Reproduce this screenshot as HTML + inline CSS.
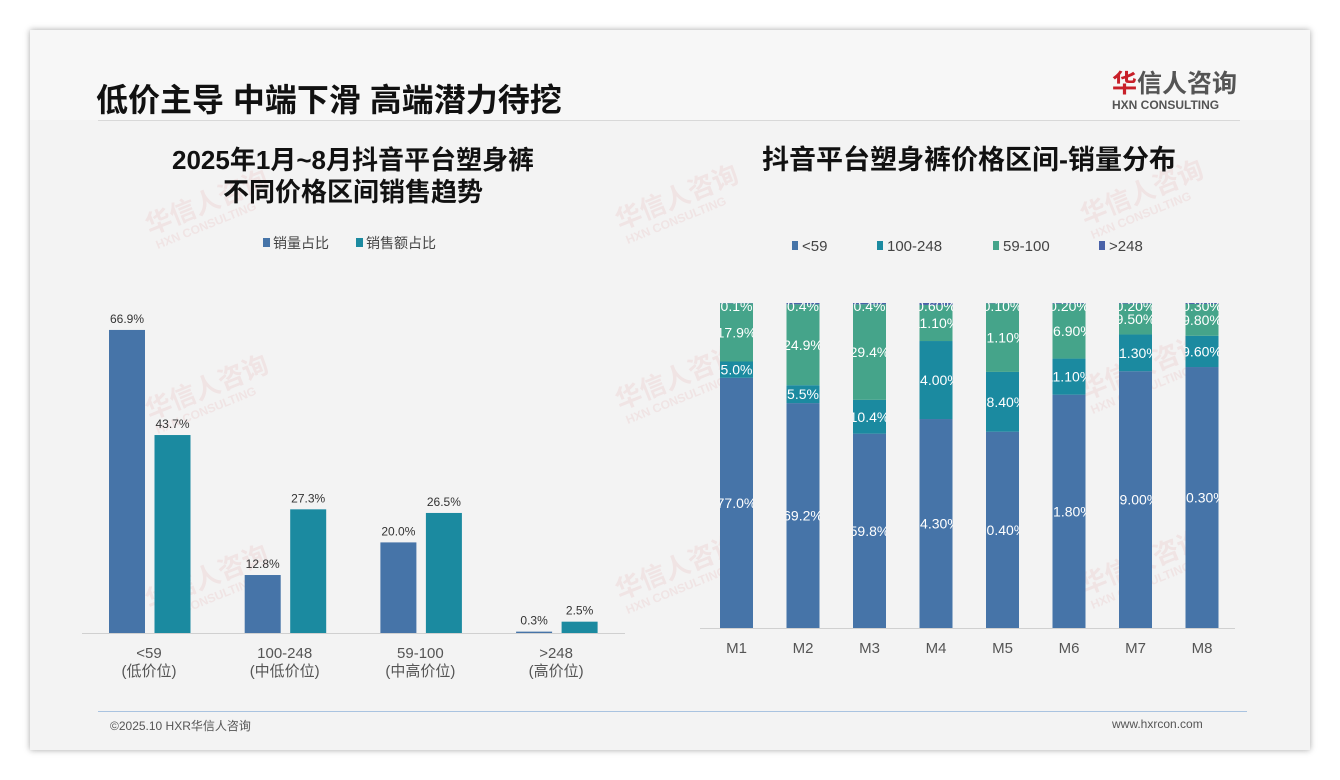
<!DOCTYPE html>
<html><head><meta charset="utf-8">
<style>
body{margin:0;width:1340px;height:780px;background:#fff;font-family:"Liberation Sans","Noto Sans CJK SC",sans-serif;overflow:hidden;position:relative}
#slide{position:absolute;left:30px;top:30px;width:1280px;height:720px;background:#f3f3f3;box-shadow:0 0 6px rgba(0,0,0,.35)}
.abs{position:absolute}
</style></head><body>
<div id="slide">
<div class="abs" style="left:0;top:0;width:1280px;height:90px;background:#f7f7f7"></div>
<div class="abs" style="left:66px;top:45px;font-size:32px;font-weight:bold;color:#111">低价主导 中端下滑 高端潜力待挖</div>
<div class="abs" style="left:1082px;top:34px;text-align:left">
<div style="font-size:25px;color:#555;font-weight:bold"><span style="color:#c8202a">华</span>信人咨询</div>
<div style="font-size:12px;color:#555;font-weight:bold;margin-top:-2px">HXN CONSULTING</div></div>
<div class="abs" style="left:68px;top:90px;width:1142px;height:1px;background:#d8d8d8"></div>
<div class="abs" style="left:68px;top:681px;width:1149px;height:1px;background:#a9c3e0"></div>
<div class="abs" style="left:80px;top:687px;font-size:12px;color:#555">©2025.10 HXR华信人咨询</div>
<div class="abs" style="left:1082px;top:687px;font-size:12px;color:#555">www.hxrcon.com</div>
</div>
<svg class="abs" style="left:0;top:0" width="1340" height="780" font-family="Liberation Sans, Noto Sans CJK SC, sans-serif">
<g id="wm" opacity="0.07" fill="#c8202a" font-weight="bold"></g>
<text x="353" y="169" text-anchor="middle" font-size="26" font-weight="bold" fill="#111">2025年1月~8月抖音平台塑身裤</text>
<text x="353" y="201" text-anchor="middle" font-size="26" font-weight="bold" fill="#111">不同价格区间销售趋势</text>
<text x="969" y="169" text-anchor="middle" font-size="27" font-weight="bold" fill="#111">抖音平台塑身裤价格区间-销量分布</text>
<g id="left"></g><g id="right"></g>
</svg>
<script>
const ns="http://www.w3.org/2000/svg";
function el(p,t,a,txt){const e=document.createElementNS(ns,t);for(const k in a)e.setAttribute(k,a[k]);if(txt!=null)e.textContent=txt;p.appendChild(e);return e;}
const wm=document.getElementById('wm');
[[150,235],[620,230],[1085,225],[150,420],[620,410],[1085,400],[150,610],[620,600],[1085,595]].forEach(p=>{
 const g=el(wm,'g',{transform:`translate(${p[0]},${p[1]}) rotate(-22)`});
 el(g,'text',{x:0,y:0,'font-size':26},'华信人咨询');el(g,'text',{x:2,y:16,'font-size':12},'HXN CONSULTING');});

// LEFT CHART DATA
const leftCats=["<59","100-248","59-100",">248"];
const leftSubs=["(低价位)","(中低价位)","(中高价位)","(高价位)"];
const volShare=[66.9,12.8,20.0,0.3];
const amtShare=[43.7,27.3,26.5,2.5];
const leftSeries=["销量占比","销售额占比"];
const leftColors=["#4674a8","#1b8aa0"];
const L=document.getElementById('left');
const lBase=633,lScale=4.53,lX0=82,lGroup=135.7,bw=36;
const ly=v=>lBase-v*lScale;
const ll=el(L,'line',{x1:82,x2:625,y1:lBase+0.5,y2:lBase+0.5,stroke:'#d0d0d0'});

leftCats.forEach((c,i)=>{
 const gx=lX0+i*lGroup;
 [volShare,amtShare].forEach((arr,s)=>{
  const x=gx+27+s*45.5,v=arr[i];
  const r=el(L,'rect',{x:x,y:ly(v),width:bw,height:v*lScale,fill:leftColors[s]});
  
  const t=el(L,'text',{x:x+bw/2,y:ly(v)-7,'text-anchor':'middle','font-size':12,fill:'#333'},v.toFixed(1)+'%');
  
 });
 const t1=el(L,'text',{x:gx+67,y:658,'text-anchor':'middle','font-size':15,fill:'#555'},c);
 
 const t2=el(L,'text',{x:gx+67,y:676,'text-anchor':'middle','font-size':15,fill:'#555'},leftSubs[i]);
 
});
[[263,0],[356,1]].forEach(([x,s])=>{
 const r=el(L,'rect',{x:x,y:238,width:7,height:9,fill:leftColors[s]});
 
 const t=el(L,'text',{x:x+10,y:248,'font-size':14,fill:'#444'},leftSeries[s]);
 
});

// RIGHT CHART DATA
const months=["M1","M2","M3","M4","M5","M6","M7","M8"];
const sLow=[77.0,69.2,59.8,64.3,60.4,71.8,79.0,80.3];
const sMid=[5.0,5.5,10.4,24.0,18.4,11.1,11.3,9.6];
const sMidHigh=[17.9,24.9,29.4,11.1,21.1,16.9,9.5,9.8];
const sHigh=[0.1,0.4,0.4,0.6,0.1,0.2,0.2,0.3];
const lowLbl=["77.0%","69.2%","59.8%","64.30%","60.40%","71.80%","79.00%","80.30%"];
const midLbl=["5.0%","5.5%","10.4%","24.00%","18.40%","11.10%","11.30%","9.60%"];
const mhLbl=["17.9%","24.9%","29.4%","11.10%","21.10%","16.90%","9.50%","9.80%"];
const hiLbl=["0.1%","0.4%","0.4%","0.60%","0.10%","0.20%","0.20%","0.30%"];
const rNames=["<59","100-248","59-100",">248"];
const rColors=["#4674a8","#1b8aa0","#45a48a","#4a62a8"];
const R=document.getElementById('right');
const rBase=628,rScale=3.25,rX0=720,rStep=66.5,rw=33;
const ry=v=>rBase-v*rScale;
const defs=el(R,'defs',{});
const rl=el(R,'line',{x1:700,x2:1235,y1:rBase+0.5,y2:rBase+0.5,stroke:'#d0d0d0'});

months.forEach((m,i)=>{
 const x=rX0+i*rStep;
 const cp=el(defs,'clipPath',{id:'cp'+i});
 el(cp,'rect',{x:x,y:ry(100),width:rw,height:100*rScale});
 const series=[[sLow,lowLbl],[sMid,midLbl],[sMidHigh,mhLbl],[sHigh,hiLbl]];
 let cum=0;
 const g=el(R,'g',{'clip-path':`url(#cp${i})`});
 series.forEach(([arr,lb],s)=>{
  const v=arr[i];
  const r=el(g,'rect',{x:x,y:ry(cum+v),width:rw,height:v*rScale,fill:rColors[s]});
  
  let cy=ry(cum+v/2)+5; if(s==3) cy=ry(100)+8;
  const t=el(g,'text',{x:x+rw/2,y:cy,'text-anchor':'middle','font-size':14,fill:'#fff'},lb[i]);
  
  cum+=v;
 });
 const t=el(R,'text',{x:x+rw/2,y:653,'text-anchor':'middle','font-size':15,fill:'#555'},m);
 
});
[[792,0],[877,1],[993,2],[1099,3]].forEach(([x,s])=>{
 const r=el(R,'rect',{x:x,y:241,width:6,height:9,fill:rColors[s]});
 
 const t=el(R,'text',{x:x+10,y:251,'font-size':15,fill:'#444'},rNames[s]);
 
});
</script>
</body></html>
